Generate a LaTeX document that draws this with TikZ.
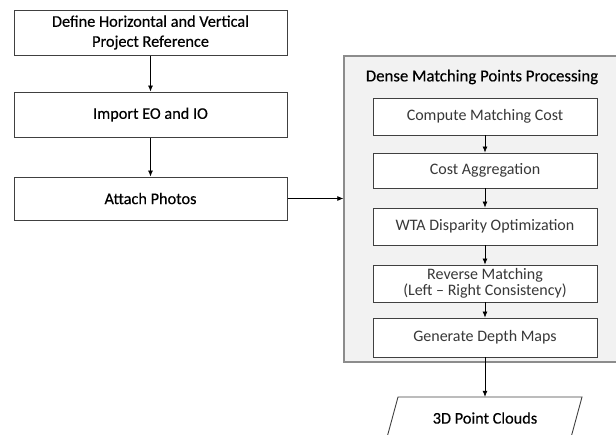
\documentclass[tikz,border=0pt]{standalone}
\usepackage{fontspec}
\setmainfont{Carlito}
\newfontfamily\heavyfont{Carlito}[FakeBold=0.35]
\usetikzlibrary{arrows.meta}
\definecolor{boxline}{HTML}{404040}
\definecolor{contfill}{HTML}{F2F2F2}
\definecolor{contline}{HTML}{8C8C8C}
\tikzset{
  mainbox/.style={draw=boxline, line width=1pt, fill=white, minimum width=273pt, align=center, font=\heavyfont\fontsize{16.3}{20}\selectfont, inner sep=0pt},
  subbox/.style={draw=boxline, line width=0.9pt, fill=white, minimum width=224pt, align=center, font=\fontsize{16}{16.5}\selectfont, text=black!78, inner sep=0pt},
  flow/.style={-{Latex[length=6pt,width=5pt]}, line width=0.7pt, black},
}
\begin{document}
\begin{tikzpicture}[x=1pt,y=-1pt]
\useasboundingbox (0,0) rectangle (616,434);
% left column
\node[mainbox, minimum height=45pt] (ref) at (150.5,32.5) {Define Horizontal and Vertical\\Project Reference};
\node[mainbox, minimum height=45pt] (imp) at (150.5,114.5) {Import EO and IO};
\node[mainbox, minimum height=43pt] (att) at (150.5,198.5) {Attach Photos};
\draw[flow] (ref) -- (imp);
\draw[flow] (imp) -- (att);
% container
\node[draw=contline, line width=1.3pt, fill=contfill, minimum width=290pt, minimum height=306pt, inner sep=0pt] (cont) at (489,209) {};
\node[font=\heavyfont\fontsize{16.8}{18}\selectfont] (title) at (482,77) {Dense Matching Points Processing};
\node[subbox, minimum height=37pt] (s1) at (485,116.5) {Compute Matching Cost};
\node[subbox, minimum height=35pt] (s2) at (485,170.5) {Cost Aggregation};
\node[subbox, minimum height=37pt] (s3) at (485,226.5) {WTA Disparity Optimization};
\node[subbox, minimum height=37pt] (s4) at (485,283.5) {Reverse Matching\\(Left -- Right Consistency)};
\node[subbox, minimum height=39pt] (s5) at (485,337.5) {Generate Depth Maps};
\draw[flow] (s1) -- (s2);
\draw[flow] (s2) -- (s3);
\draw[flow] (s3) -- (s4);
\draw[flow] (s4) -- (s5);
\draw[flow] (att.east) -- (att.east -| cont.west);
% output parallelogram
\draw[boxline, line width=0.9pt] (398,397) -- (582,397) -- (570.6,439) -- (386.6,439) -- cycle;
\node[font=\heavyfont\fontsize{16.3}{18}\selectfont, minimum height=42pt, inner sep=0pt] (pc) at (485,418) {3D Point Clouds};
\draw[flow] (s5.south) -- (s5.south |- pc.north);
\end{tikzpicture}
\end{document}
